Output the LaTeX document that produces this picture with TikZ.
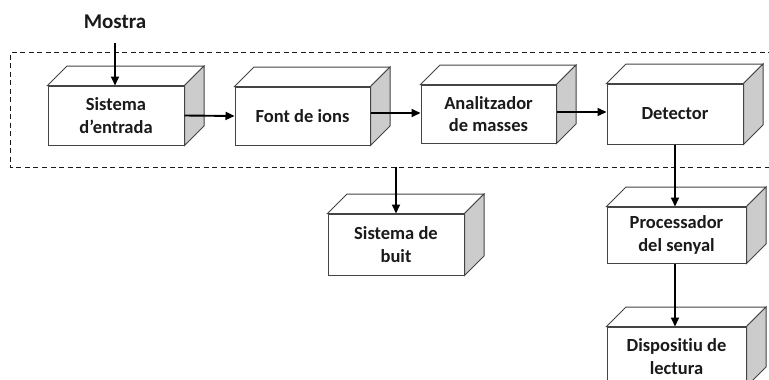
\documentclass[tikz,border=0pt]{standalone}
\usepackage{fontspec}
\setmainfont{Carlito}[Ligatures=NoCommon]
\usetikzlibrary{arrows.meta,calc}
\definecolor{edge}{HTML}{444444}
\definecolor{sideface}{HTML}{CCCCCC}
\definecolor{ink}{HTML}{1A1A1A}
\tikzset{
  frontface/.style={draw=edge, line width=1pt, fill=white, align=center,
    inner sep=0pt, text=ink, font=\bfseries\fontsize{18.5}{22.5}\selectfont},
  faceline/.style={draw=edge, line width=1pt, line join=miter},
  flow/.style={line width=1.9pt, -{Triangle[length=9pt,width=8pt]}},
  frame/.style={line width=0.9pt, dash pattern=on 5pt off 3.5pt, draw=ink},
}
% box with top and side faces drawn behind the named front face
\newcommand{\boxthreed}[5]{%
  \node[frontface, minimum width=#3pt, minimum height=#4pt] (#1) at (#2) {#5};
  \draw[faceline, fill=white] (#1.north west) -- ++(19.5,-19.5) -- ($(#1.north east)+(19.5,-19.5)$) -- (#1.north east) -- cycle;
  \draw[faceline, fill=sideface] (#1.north east) -- ++(19.5,-19.5) -- ($(#1.south east)+(19.5,-19.5)$) -- (#1.south east) -- cycle;
}
\begin{document}
\begin{tikzpicture}[x=1pt,y=-1pt]
\useasboundingbox (0,0) rectangle (769,380);
\clip (0,0) rectangle (769,380);
\fill[white] (0,0) rectangle (769,380);

% dashed enclosure of the main chain
\draw[frame] (790,52.5) -- (10,52.5) -- (10,167) -- (790,167);
\coordinate (vac) at (396,167);

\boxthreed{inlet}{116,115.5}{136}{59}{Sistema\\d’entrada}
\boxthreed{source}{302.5,116}{135}{58}{Font de ions}
\boxthreed{analyser}{488.5,114}{135}{58}{Analitzador\\de masses}
\boxthreed{detector}{675,114}{136}{60}{Detector}
\boxthreed{vacuum}{396,244.5}{136}{61}{Sistema de\\buit}
\boxthreed{processor}{676.5,235}{139}{56}{Processador\\del senyal}
\boxthreed{readout}{676.5,356.5}{139}{59}{Dispositiu de\\lectura}

\node[text=ink, font=\bfseries\fontsize{21}{24}\selectfont] (sample) at (115,22) {Mostra};
\coordinate (feed) at (115,43);

\draw[flow] (feed) -- (feed |- inlet.north);
\draw[flow] (inlet.east) -- (source.west);
\draw[flow] ([yshift=3pt]source.east) -- ([yshift=3pt]source.east -| analyser.west);
\draw[flow] ([yshift=2pt]analyser.east) -- ([yshift=2pt]analyser.east -| detector.west);
\draw[flow] (vac) -- (vacuum.north);
\draw[flow] (detector.south) -- (detector.south |- processor.north);
\draw[flow] (processor.south -| detector.south) -- (detector.south |- readout.north);
\end{tikzpicture}
\end{document}
